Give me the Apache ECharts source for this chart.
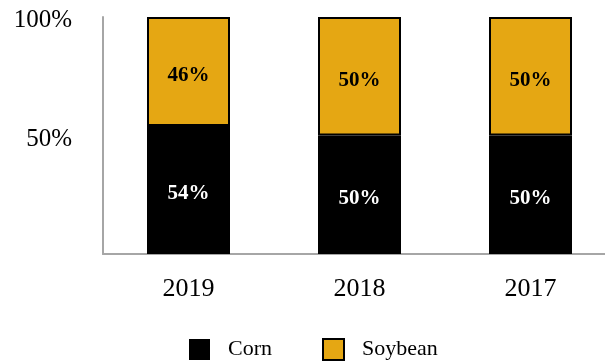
<!DOCTYPE html>
<html>
<head>
<meta charset="utf-8">
<script src="https://cdn.jsdelivr.net/npm/echarts@6/dist/echarts.min.js"></script>
<style>
  html, body { margin: 0; padding: 0; background: #fff; overflow: hidden; }
  #chart { width: 616px; height: 364px; }
</style>
</head>
<body>
<div id="chart"></div>
<script>
// Share of planted acres by crop, per year
const years = ['2019', '2018', '2017'];
const cornShare = [54, 50, 50];
const soybeanShare = [46, 50, 50];
const yTickLabels = { 50: '50%', 100: '100%' };

const serif = '"Liberation Serif", "Times New Roman", serif';
const axisGray = '#a6a6a6';

const chart = echarts.init(document.getElementById('chart'), null, { renderer: 'canvas' });

chart.setOption({
  animation: false,
  backgroundColor: '#ffffff',
  // the plot runs a little past the right edge of the page, so the x axis is clipped there
  grid: { left: 103, top: 17, right: 0, height: 237, containLabel: false },
  legend: {
    left: 184,
    top: 333,
    itemWidth: 21,
    itemHeight: 21,
    itemGap: 50,
    icon: 'rect',
    textStyle: { fontFamily: serif, fontSize: 22, color: '#000', padding: [0, 0, 0, 13] },
    data: ['Corn', 'Soybean']
  },
  xAxis: {
    type: 'category',
    data: years,
    axisLine: { show: true, lineStyle: { color: axisGray, width: 2 } },
    axisTick: { show: false },
    axisLabel: { fontFamily: serif, fontSize: 26, color: '#000', margin: 22 }
  },
  yAxis: {
    type: 'value',
    min: 0,
    max: 100,
    interval: 50,
    splitLine: { show: false },
    axisTick: { show: false },
    axisLine: { show: true, lineStyle: { color: axisGray, width: 2 } },
    axisLabel: {
      color: '#000',
      margin: 31,
      formatter: v => (yTickLabels[v] ? '{t|' + yTickLabels[v] + '}' : ''),
      rich: {
        t: { fontFamily: serif, fontSize: 25, color: '#000', padding: [7, 0, 0, 0] }
      }
    }
  },
  series: [
    {
      name: 'Corn',
      type: 'bar',
      stack: 'share',
      barWidth: 83,
      data: cornShare,
      itemStyle: { color: '#000000' },
      label: {
        show: true,
        position: 'inside',
        offset: [0, 4],
        formatter: p => p.value + '%',
        fontFamily: serif,
        fontWeight: 'bold',
        fontSize: 21,
        color: '#ffffff'
      }
    },
    {
      name: 'Soybean',
      type: 'bar',
      stack: 'share',
      barWidth: 83,
      data: soybeanShare,
      itemStyle: { color: '#e5a713', borderColor: '#000000', borderWidth: 2 },
      label: {
        show: true,
        position: 'inside',
        offset: [0, 4],
        formatter: p => p.value + '%',
        fontFamily: serif,
        fontWeight: 'bold',
        fontSize: 21,
        color: '#000000'
      }
    }
  ]
});
</script>
</body>
</html>
